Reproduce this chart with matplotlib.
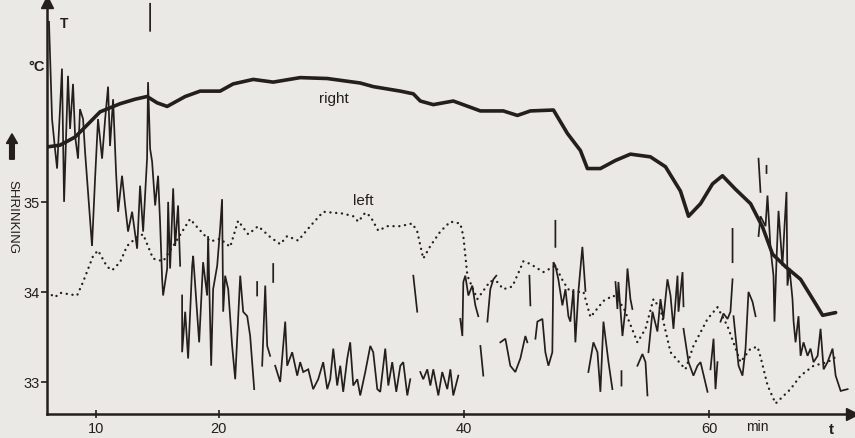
import numpy as np
import matplotlib.pyplot as plt

nan = np.nan

# thick curve "right"
right_t = [6.00, 7.06, 8.29, 9.10, 10.33, 11.96, 13.18, 14.16, 14.98, 15.80, 17.27, 18.49,
           20.12, 21.18, 22.82, 24.45, 26.65, 28.86, 31.55, 32.61, 34.82, 35.88, 36.45, 37.51,
           39.14, 41.35, 43.22, 44.37, 45.43, 47.31, 48.45, 49.51, 50.08, 51.14, 52.37, 53.59,
           55.22, 56.45, 57.67, 58.33, 59.31, 60.29, 61.10, 62.16, 63.39, 64.37, 65.18, 66.24,
           67.47, 68.69, 69.27, 70.33]
right_T = [35.61, 35.63, 35.72, 35.83, 36.00, 36.09, 36.14, 36.17, 36.10, 36.06, 36.17, 36.23,
           36.23, 36.31, 36.36, 36.33, 36.38, 36.37, 36.32, 36.28, 36.23, 36.20, 36.12, 36.08,
           36.12, 36.01, 36.01, 35.96, 36.01, 36.02, 35.76, 35.57, 35.37, 35.37, 35.46, 35.53,
           35.50, 35.39, 35.12, 34.84, 34.98, 35.20, 35.29, 35.14, 34.98, 34.72, 34.42, 34.28,
           34.14, 33.87, 33.74, 33.77]

# dotted curve "left"
left_t = [6.00, 6.65, 7.06, 8.45, 8.94, 9.76, 10.16, 10.90, 11.31, 11.96, 12.53, 13.35, 13.84,
          14.65, 15.47, 16.29, 17.67, 18.24, 19.31, 20.12, 20.94, 21.59, 22.41, 23.22, 24.20,
          25.02, 25.59, 26.49, 27.47, 28.53, 30.16, 30.98, 31.39, 31.96, 32.37, 33.02, 33.76,
          34.82, 35.80, 36.20, 36.69, 37.27, 38.08, 38.90, 39.71, 39.96, 40.29, 41.10, 42.16,
          42.73, 43.22, 43.96, 44.61, 44.86, 45.43, 46.49, 47.47, 48.12, 48.69, 49.76, 50.33,
          51.39, 52.20, 53.02, 54.16, 54.82, 55.47, 56.04, 56.86, 58.08, 58.73, 59.88, 60.69,
          61.51, 62.57, 63.39, 63.96, 64.20, 64.78, 65.43, 66.65, 67.47, 68.53, 69.67, 70.49]
left_T = [34.00, 33.94, 33.99, 33.96, 34.11, 34.40, 34.46, 34.28, 34.24, 34.33, 34.51, 34.61, 34.64,
          34.37, 34.34, 34.51, 34.81, 34.72, 34.56, 34.59, 34.50, 34.79, 34.64, 34.73, 34.61,
          34.53, 34.62, 34.57, 34.73, 34.89, 34.87, 34.84, 34.78, 34.88, 34.84, 34.68, 34.73,
          34.73, 34.76, 34.67, 34.37, 34.51, 34.67, 34.78, 34.76, 34.62, 34.18, 33.92, 34.12,
          34.11, 34.03, 34.06, 34.26, 34.34, 34.31, 34.22, 34.29, 34.11, 34.00, 34.00, 33.72,
          33.90, 33.96, 33.83, 33.44, 33.59, 33.92, 33.81, 33.33, 33.14, 33.40, 33.70, 33.83,
          33.62, 33.22, 33.37, 33.39, 33.28, 32.96, 32.76, 32.92, 33.07, 33.18, 33.22, 33.29]

# thin noisy trace (shrinking), nan = pen lifted
shr_t = [6.00, 6.00, 6.16, 6.41, 6.65, 6.82, 7.22, 7.39, 7.71, 7.88, 8.12, 8.29, 8.53, 8.69,
         8.94, 9.10, 9.67, 9.92, 10.16, 10.49, 10.74, 10.98, 11.14, 11.39, 11.63, 11.80, 12.12,
         12.37, 12.61, 12.94, 13.35, 13.59, 13.84, 14.16, 14.24, 14.41, 14.57, 14.82, 15.06,
         15.22, 15.39, 15.47, 15.80, 15.88, 16.04, 16.29, 16.45, 16.69, 16.86, nan,
         17.02, 17.02, 17.27, 17.51, 17.84, 17.92, 18.24, 18.41, 18.73, 19.06, 19.14, 19.39,
         19.55, 19.88, 20.12, 20.28, 20.37, 20.53, 20.78, 21.10, 21.35, 21.76, 22.00, 22.33,
         22.57, 22.90, nan, 23.14, 23.14, nan, 23.55, 23.80, 23.96, 24.20, nan, 24.45, 24.45, nan,
         24.61, 25.02, 25.43, 25.59, 26.00, 26.41, 26.65, 26.90, 27.31, 27.71, 28.12, 28.53,
         28.86, 29.10, 29.35, 29.67, 29.92, 30.16, 30.49, 30.73, 30.98, 31.31, 31.55, 31.96,
         32.37, 32.61, 32.94, 33.18, 33.59, 33.84, 34.16, 34.49, 34.82, 35.06, 35.39, 35.63, nan,
         35.88, 36.20, nan, 36.45, 36.69, 37.02, 37.27, 37.51, 37.92, 38.24, 38.65, 38.90, 39.14,
         39.55, nan, 39.71, 39.88, 39.96, 40.12, 40.37, 40.69, 40.94, 41.18, nan, 41.35, 41.59, nan,
         41.92, 42.16, 42.41, 42.65, nan, 42.98, 43.39, 43.79, 44.20, 44.61, 45.02, 45.18, nan,
         45.35, 45.43, nan, 45.84, 46.00, 46.41, 46.65, 46.90, 47.22, 47.31, 47.47, 47.71, 48.04,
         48.29, 48.53, 48.69, 48.94, 49.10, 49.35, 49.67, 49.92, nan, 47.47, 47.47, nan,
         50.16, 50.57, 50.90, 51.14, 51.39, 51.80, 52.12, nan, 52.37, 52.53, 52.61, 52.94, 53.18,
         53.35, 53.59, 53.75, nan, 52.86, 52.86, nan, 54.16, 54.57, 54.82, 54.98, nan, 55.06,
         55.39, 55.79, 56.04, 56.28, 56.61, 56.86, 57.10, 57.43, 57.51, 57.84, 57.92, nan,
         57.92, 58.33, 58.73, 59.06, 59.31, 59.88, nan, 60.12, 60.37, 60.53, 60.69, nan,
         60.94, 61.18, 61.51, 61.75, 61.92, nan, 61.92, 61.92, nan, 62.00, 62.41, 62.73, 62.98,
         63.22, 63.55, 63.80, nan, 64.04, 64.20, nan, 64.69, 64.69, nan, 64.04, 64.20, 64.61, 64.77,
         65.02, 65.26, 65.34, 65.51, 65.67, 65.99, 66.16, 66.32, 66.40, 66.57, 66.81, 66.90,
         67.06, 67.30, 67.47, 67.71, 68.04, 68.28, 68.53, 68.86, 69.10, 69.35, 69.67, 70.08,
         70.33, 70.74, 71.31, nan, 14.41, 14.41]
shr_T = [35.59, 37.00, 37.00, 35.92, 35.59, 35.37, 36.48, 35.00, 36.40, 35.81, 36.31, 35.73, 35.48, 36.03,
         35.92, 35.56, 34.51, 35.26, 35.92, 35.48, 35.92, 36.28, 35.62, 36.14, 35.33, 34.89, 35.29,
         34.96, 34.67, 34.89, 34.48, 35.18, 34.67, 35.48, 36.33, 35.59, 35.45, 34.96, 35.29,
         34.78, 34.14, 33.96, 34.26, 35.00, 34.26, 35.15, 34.51, 34.96, 34.29, nan,
         33.96, 33.33, 33.78, 33.26, 34.29, 34.40, 33.78, 33.44, 34.33, 33.96, 34.62, 33.18,
         34.03, 34.29, 34.70, 35.03, 33.78, 34.18, 34.03, 33.40, 33.03, 34.18, 33.78, 33.73,
         33.51, 32.92, nan, 34.11, 33.96, nan, 33.18, 34.07, 33.40, 33.29, nan, 34.31, 34.11, nan,
         33.18, 33.00, 33.67, 33.18, 33.33, 33.07, 33.22, 33.11, 33.14, 32.92, 33.03, 33.22,
         32.92, 33.03, 33.37, 32.96, 33.18, 32.89, 33.26, 33.44, 32.96, 33.03, 32.85, 33.11,
         33.40, 33.33, 32.92, 32.89, 33.37, 32.96, 33.22, 32.89, 33.18, 33.22, 32.85, 33.03, nan,
         34.18, 33.78, nan, 33.11, 33.03, 33.14, 32.96, 33.14, 32.85, 33.11, 32.92, 33.14, 32.85,
         33.07, nan, 33.70, 33.51, 34.11, 34.18, 33.96, 34.07, 33.85, 33.73, nan, 33.40, 33.07, nan,
         33.67, 34.03, 34.14, 34.18, nan, 33.44, 33.48, 33.18, 33.11, 33.26, 33.51, 33.44, nan,
         34.18, 33.85, nan, 33.48, 33.67, 33.70, 33.33, 33.18, 33.33, 34.33, 34.29, 34.14, 33.85,
         34.03, 33.73, 33.67, 34.03, 33.44, 34.01, 34.50, 34.01, nan, 34.79, 34.50, nan,
         33.11, 33.44, 33.33, 32.89, 33.67, 33.22, 32.92, nan, 34.11, 33.81, 34.11, 33.51, 33.81,
         34.26, 33.92, 33.81, nan, 33.12, 32.96, nan, 33.18, 33.31, 33.22, 32.85, nan, 33.33,
         33.78, 33.56, 33.92, 33.70, 34.14, 33.96, 33.59, 34.18, 33.78, 34.22, 33.84, nan,
         33.59, 33.22, 33.07, 33.18, 33.22, 32.89, nan, 33.14, 33.48, 32.92, 33.22, nan,
         33.67, 33.76, 33.70, 33.78, 34.14, nan, 34.70, 34.33, nan, 33.73, 33.18, 33.07, 33.37,
         34.00, 33.89, 33.73, nan, 35.48, 35.11, nan, 35.40, 35.32, nan, 34.62, 34.84, 34.73, 35.07,
         34.48, 34.18, 33.67, 34.37, 34.90, 34.29, 34.73, 35.11, 34.07, 34.26, 33.92, 33.67,
         33.44, 33.73, 33.29, 33.44, 33.29, 33.37, 33.22, 33.29, 33.59, 33.14, 33.22, 33.37,
         33.07, 32.90, 32.92, nan, 37.20, 36.90]

x_ticks = [10, 20, 40, 60]
y_ticks = [33, 34, 35]

ink = '#241f1c'
paper = '#eae9e5'
plt.rcParams['font.family'] = 'Liberation Sans'

fig = plt.figure(figsize=(8.55, 4.39), dpi=100, facecolor=paper)
ax = fig.add_axes([0.055, 0.0547, 0.942, 0.9385])
ax.set_facecolor(paper)

ax.plot(shr_t, shr_T, color=ink, lw=1.25, solid_joinstyle='miter')
ax.plot(left_t, left_T, color=ink, lw=1.7, linestyle=(0, (0.05, 2.4)), dash_capstyle='round')
ax.plot(right_t, right_T, color=ink, lw=2.6, solid_capstyle='round')

ax.set_xlim(6.0, 71.7)
ax.set_ylim(32.644, 37.22)

for s in ['top', 'right']:
    ax.spines[s].set_visible(False)
for s in ['left', 'bottom']:
    ax.spines[s].set_color(ink)
    ax.spines[s].set_linewidth(1.8)

# arrow heads at the axis ends
ax.plot(1, 0, '>', color=ink, ms=9, transform=ax.transAxes, clip_on=False)
ax.plot(0, 1, '^', color=ink, ms=9, transform=ax.transAxes, clip_on=False)

ax.set_xticks(x_ticks)
ax.set_yticks(y_ticks)
ax.set_xticklabels([str(v) for v in x_ticks])
ax.set_yticklabels([str(v) for v in y_ticks])
ax.tick_params(axis='x', direction='inout', length=6, width=1.2, colors=ink, labelsize=10.5, pad=2)
ax.tick_params(axis='y', direction='out', length=4, width=1.2, colors=ink, labelsize=10.5, pad=1)

ax.text(0.016, 0.94, 'T', transform=ax.transAxes, fontsize=10, fontweight='bold', color=ink)
fig.text(0.033, 0.838, '°C', fontsize=10.5, fontweight='bold', color=ink)
fig.text(0.872, 0.018, 'min', fontsize=10, color=ink)
fig.text(0.970, 0.012, 't', fontsize=11, fontweight='bold', color=ink)
ax.text(28.2, 36.11, 'right', fontsize=11, color=ink)
ax.text(31.0, 34.98, 'left', fontsize=11, color=ink)

fig.text(0.014, 0.505, 'SHRINKING', rotation=270, fontsize=9.5, color=ink,
         ha='center', va='center')
fig.patches.append(plt.matplotlib.patches.FancyArrow(
    0.014, 0.635, 0, 0.058, width=0.0055, head_width=0.013, head_length=0.022,
    color=ink, transform=fig.transFigure, length_includes_head=True))

fig.savefig('out.png', dpi=100, facecolor=paper)
